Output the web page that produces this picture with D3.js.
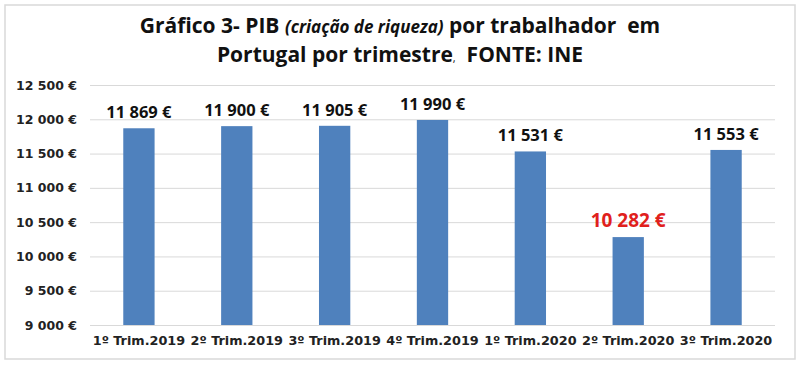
<!DOCTYPE html>
<html>
<head>
<meta charset="utf-8">
<script src="https://cdn.jsdelivr.net/npm/d3@7"></script>
<style>
  html, body { margin: 0; padding: 0; background: #fff; }
</style>
</head>
<body>
<svg id="chart"></svg>
<script>
/* Data */
const categories = ["1º Trim.2019", "2º Trim.2019", "3º Trim.2019", "4º Trim.2019",
                    "1º Trim.2020", "2º Trim.2020", "3º Trim.2020"];
const values = [11869, 11900, 11905, 11990, 11531, 10282, 11553];
const yTicks = [9000, 9500, 10000, 10500, 11000, 11500, 12000, 12500];
const highlight = "2º Trim.2020";

/* size and padding */
const width = 803, height = 366;
const padding = {left: 90, right: 28, top: 85, bottom: 41};

const svg = d3.select("#chart")
  .attr("width", width)
  .attr("height", height);

/* outer frame */
svg.append("rect")
  .attr("x", 5).attr("y", 5)
  .attr("width", 790).attr("height", 354)
  .attr("fill", "#fff")
  .attr("stroke", "#d9d9d9")
  .attr("stroke-width", 1.5);

/* euro formatting with space as thousands separator */
const fmt = v => d3.format(",")(v).replace(/,/g, " ") + " €";

const x = d3.scaleBand()
  .domain(categories)
  .range([padding.left, width - padding.right])
  .paddingInner(0.68)
  .paddingOuter(0.34);

const y = d3.scaleLinear()
  .domain([9000, 12500])
  .range([height - padding.bottom, padding.top]);

/* gridlines + y axis labels */
const yAxis = d3.axisLeft(y)
  .tickValues(yTicks)
  .tickSize(-(width - padding.left - padding.right))
  .tickPadding(13)
  .tickFormat(fmt);

const gy = svg.append("g")
  .attr("transform", "translate(" + padding.left + ",0)")
  .call(yAxis);
gy.select(".domain").remove();
gy.selectAll(".tick line").attr("stroke", "#d9d9d9").attr("stroke-width", 1);
gy.selectAll(".tick text")
  .attr("font-family", "DejaVu Sans, Verdana, sans-serif")
  .attr("font-weight", "bold")
  .attr("font-size", 12.5)
  .attr("fill", "#222");

/* x axis labels */
const xAxis = d3.axisBottom(x).tickSize(0).tickPadding(11);
const gx = svg.append("g")
  .attr("transform", "translate(0," + (height - padding.bottom) + ")")
  .call(xAxis);
gx.select(".domain").remove();
gx.selectAll(".tick text")
  .attr("font-family", "DejaVu Sans, Verdana, sans-serif")
  .attr("font-weight", "bold")
  .attr("font-size", 12.8)
  .attr("fill", "#222");

/* bars */
svg.append("g").selectAll("rect")
  .data(values)
  .join("rect")
  .attr("x", (d, i) => x(categories[i]))
  .attr("y", d => y(d))
  .attr("width", x.bandwidth())
  .attr("height", d => y(9000) - y(d))
  .attr("fill", "#4f81bd");

/* value labels */
svg.append("g").selectAll("text")
  .data(values)
  .join("text")
  .attr("x", (d, i) => x(categories[i]) + x.bandwidth() / 2)
  .attr("y", d => y(d) - 10)
  .attr("text-anchor", "middle")
  .attr("font-family", "Open Sans, sans-serif")
  .attr("font-weight", "bold")
  .attr("font-size", (d, i) => categories[i] === highlight ? 19 : 16.5)
  .attr("fill", (d, i) => categories[i] === highlight ? "#e0201c" : "#111")
  .text(fmt);

/* title */
const title = svg.append("g")
  .attr("font-family", "Open Sans, sans-serif")
  .attr("font-weight", "bold")
  .attr("fill", "#111")
  .attr("text-anchor", "middle");

const t1 = title.append("text").attr("x", 400).attr("y", 33).attr("font-size", 21);
t1.append("tspan").text("Gráfico 3- PIB ");
t1.append("tspan").attr("font-style", "italic").attr("font-size", 17).text("(criação de riqueza)");
t1.append("tspan").text(" por trabalhador\u00a0 em");

const t2 = title.append("text").attr("x", 400).attr("y", 62).attr("font-size", 21);
t2.append("tspan").text("Portugal por trimestre");
t2.append("tspan").attr("font-size", 11).attr("font-weight", "normal").text(",");
t2.append("tspan").text("\u00a0 FONTE: INE");
</script>
</body>
</html>
